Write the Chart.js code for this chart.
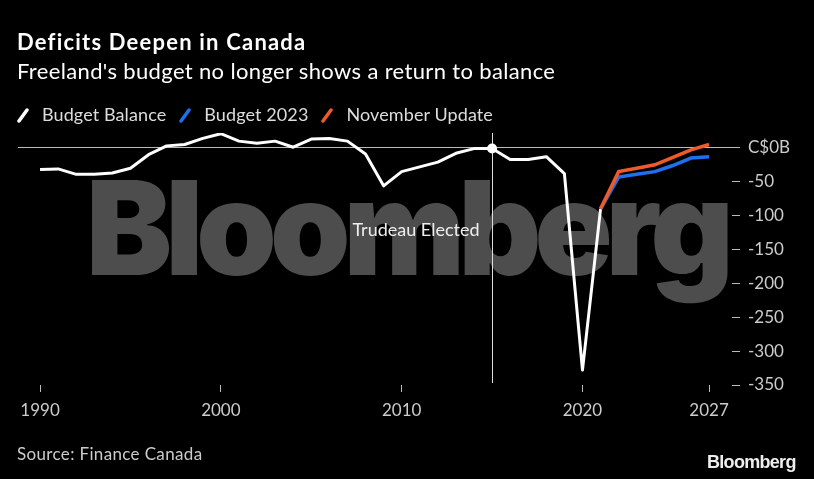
<!DOCTYPE html>
<html>
<head>
<meta charset="utf-8">
<script src="https://cdn.jsdelivr.net/npm/chart.js@4.4.1/dist/chart.umd.min.js"></script>
<style>
  html, body { margin: 0; padding: 0; background: #000; }
  #wrap { position: relative; width: 814px; height: 479px; background: #000; overflow: hidden; font-family: Lato, "Noto Sans", sans-serif; }
  #chart { position: absolute; left: 0; top: 0; }
  .txt { position: absolute; white-space: nowrap; color: #fff; }
  #title { left: 17px; top: 28px; font-size: 22px; font-weight: bold; letter-spacing: 1.2px; }
  #subtitle { left: 17px; top: 57px; font-size: 22px; letter-spacing: 0.35px; }
  #legend { left: 16px; top: 103px; font-size: 18px; color: #ddd; letter-spacing: 0.1px; }
  #legend span.item { margin-right: 12px; }
  #legend svg { vertical-align: -2px; margin-right: 12px; }
  #source { left: 17px; top: 443px; font-size: 17px; color: #ccc; letter-spacing: 0.35px; }
  #logo { left: 707px; top: 452px; font-size: 18px; font-weight: bold; font-family: "Liberation Sans", Arial, sans-serif; color: #eee; letter-spacing: -0.7px; }
</style>
</head>
<body>
<div id="wrap">
  <canvas id="chart" width="814" height="479"></canvas>
  <div class="txt" id="title">Deficits Deepen in Canada</div>
  <div class="txt" id="subtitle">Freeland's budget no longer shows a return to balance</div>
  <div class="txt" id="legend"></div>
  <div class="txt" id="source">Source: Finance Canada</div>
  <div class="txt" id="logo">Bloomberg</div>
</div>
<script>
var years = [1990, 1991, 1992, 1993, 1994, 1995, 1996, 1997, 1998, 1999,
             2000, 2001, 2002, 2003, 2004, 2005, 2006, 2007, 2008, 2009,
             2010, 2011, 2012, 2013, 2014, 2015, 2016, 2017, 2018, 2019,
             2020, 2021];
var budgetBalance = [-32, -31, -39, -39, -37, -30, -10, 3, 5, 14,
                     21, 10, 7, 10, 1, 13, 14, 10, -9, -56,
                     -35, -28, -21, -8, -1, -1, -17, -17, -13, -38,
                     -328, -90];
var forecastYears = [2021, 2022, 2023, 2024, 2025, 2026, 2027];
var budget2023 = [-90, -43, -39, -35, -26, -15, -13];
var novemberUpdate = [-90, -35, -30, -25, -14, -3, 5];
var xTicks = [1990, 2000, 2010, 2020, 2027];
var yTicks = [-350, -300, -250, -200, -150, -100, -50, 0];

var seriesNames = ["Budget Balance", "Budget 2023", "November Update"];
var seriesColors = ["#ffffff", "#1f6fee", "#ee5a2a"];

var electionYear = 2015;

// html legend with slanted strokes
var legendHtml = "";
for (var i = 0; i < seriesNames.length; i++) {
  legendHtml += '<span class="item"><svg width="14" height="15"><line x1="3" y1="13" x2="11" y2="2" stroke="' +
    seriesColors[i] + '" stroke-width="3.5" stroke-linecap="round"/></svg>' + seriesNames[i] + '</span>';
}
document.getElementById("legend").innerHTML = legendHtml;

function points(xs, ys) {
  return xs.map(function(x, i) { return { x: x, y: ys[i] }; });
}

var watermark = {
  id: "watermark",
  beforeDatasetsDraw: function(chart) {
    var ctx = chart.ctx;
    ctx.save();
    ctx.font = '900 131px Inter, Roboto, "Liberation Sans", sans-serif';
    ctx.letterSpacing = "-7px";
    ctx.fillStyle = "rgb(77,77,77)";
    ctx.textBaseline = "alphabetic";
    var w = ctx.measureText("Bloomberg").width;
    ctx.translate(86, 275);
    ctx.scale(641 / w, 1);
    ctx.fillText("Bloomberg", 0, 0);
    ctx.restore();

    // election marker line
    var xs = chart.scales.x, area = chart.chartArea;
    var px = Math.round(xs.getPixelForValue(electionYear)) + 0.5;
    ctx.save();
    ctx.strokeStyle = "#dddddd";
    ctx.lineWidth = 1;
    ctx.beginPath();
    ctx.moveTo(px, area.top);
    ctx.lineTo(px, area.bottom - 2);
    ctx.stroke();
    ctx.font = '18px Lato, "Noto Sans", sans-serif';
    ctx.fillStyle = "#eeeeee";
    ctx.textAlign = "right";
    ctx.textBaseline = "middle";
    ctx.fillText("Trudeau Elected", px - 13, 230);
    ctx.restore();
  },
  afterDatasetsDraw: function(chart) {
    var ctx = chart.ctx;
    var xs = chart.scales.x, ys = chart.scales.y;
    var v = budgetBalance[years.indexOf(electionYear)];
    ctx.save();
    ctx.fillStyle = "#ffffff";
    ctx.beginPath();
    ctx.arc(xs.getPixelForValue(electionYear), ys.getPixelForValue(v), 5, 0, Math.PI * 2);
    ctx.fill();
    ctx.restore();
  }
};

var ctx = document.getElementById("chart").getContext("2d");
new Chart(ctx, {
  type: "line",
  data: {
    datasets: [
      {
        label: seriesNames[2],
        data: points(forecastYears, novemberUpdate),
        borderColor: seriesColors[2],
        borderWidth: 3.5,
        pointRadius: 0,
        order: 0
      },
      {
        label: seriesNames[1],
        data: points(forecastYears, budget2023),
        borderColor: seriesColors[1],
        borderWidth: 3.5,
        pointRadius: 0,
        order: 1
      },
      {
        label: seriesNames[0],
        data: points(years, budgetBalance),
        borderColor: seriesColors[0],
        borderWidth: 3,
        borderJoinStyle: "round",
        pointRadius: 0,
        order: 2
      }
    ]
  },
  options: {
    responsive: false,
    animation: false,
    devicePixelRatio: 1,
    layout: { padding: { top: 133, left: 18, right: 0, bottom: 0 } },
    plugins: { legend: { display: false }, tooltip: { enabled: false } },
    scales: {
      x: {
        type: "linear",
        min: 1988.78,
        max: 2028.27,
        afterBuildTicks: function(s) { s.ticks = xTicks.map(function(v) { return { value: v }; }); },
        afterFit: function(s) { s.height = 479 - 385; },
        grid: { drawOnChartArea: false, tickLength: 7, tickColor: "#bbbbbb", color: "#bbbbbb" },
        border: { display: false },
        ticks: {
          color: "#cccccc",
          font: { family: 'Lato, "Noto Sans", sans-serif', size: 17 },
          padding: 8,
          maxRotation: 0,
          autoSkip: false,
          callback: function(v) { return String(v); }
        }
      },
      y: {
        position: "right",
        min: -350,
        max: 22,
        afterBuildTicks: function(s) { s.ticks = yTicks.map(function(v) { return { value: v }; }); },
        afterFit: function(s) { s.width = 814 - 732; },
        grid: {
          drawOnChartArea: true,
          tickLength: 8,
          tickColor: "#bbbbbb",
          color: function(c) { return c.tick && c.tick.value === 0 ? "#bbbbbb" : "rgba(0,0,0,0)"; }
        },
        border: { display: false },
        ticks: {
          color: "#cccccc",
          font: { family: 'Lato, "Noto Sans", sans-serif', size: 17 },
          padding: 8,
          callback: function(v) { return v === 0 ? "C$0B" : String(v); }
        }
      }
    }
  },
  plugins: [watermark]
});
</script>
</body>
</html>
